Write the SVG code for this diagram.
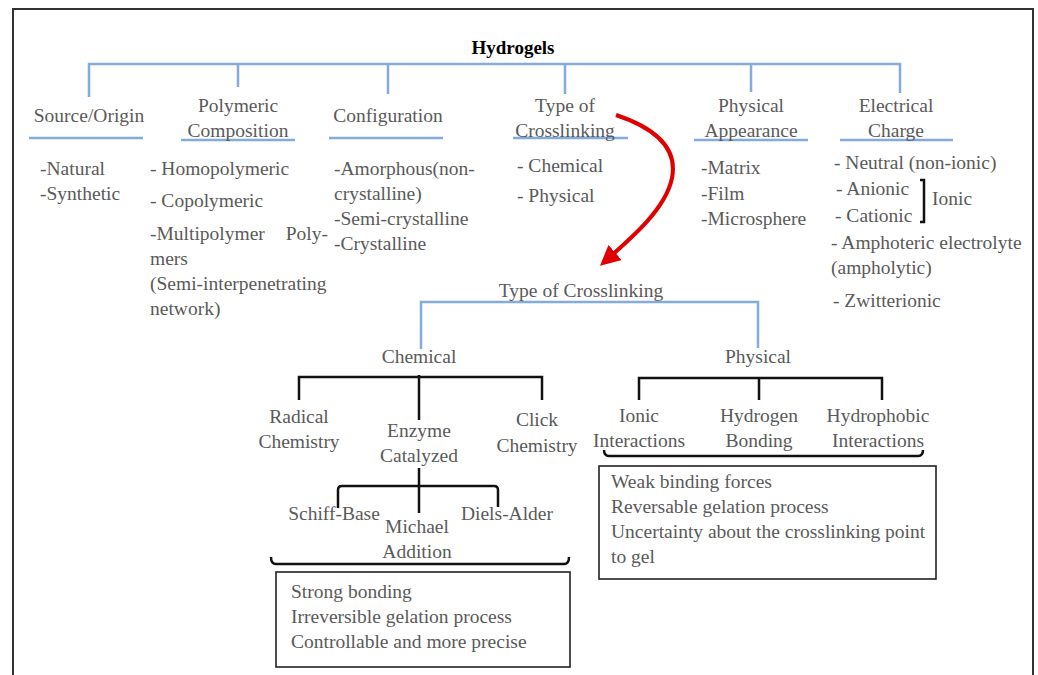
<svg xmlns="http://www.w3.org/2000/svg" width="1038" height="675" viewBox="0 0 1038 675">
  <style>
    text { font-family: "Liberation Serif", "Times New Roman", serif; font-size: 19.5px; fill: #5a5a5a; }
    .c { text-anchor: middle; }
    .title { font-weight: bold; fill: #000; font-size: 19px; }
    .blue { fill: none; stroke: #84abde; stroke-width: 2.5; }
    .blk { fill: none; stroke: #111; stroke-width: 2.5; }
    .box { fill: none; stroke: #222; stroke-width: 1.6; }
    .frame { fill: none; stroke: #333; stroke-width: 2; }
  </style>
  <defs>
    <marker id="redHead" viewBox="0 0 10 10" refX="8" refY="5" markerWidth="5" markerHeight="5" orient="auto" markerUnits="strokeWidth">
      <path d="M0,0 L10,5 L0,10 Z" fill="#e00000"/>
    </marker>
  </defs>

  <!-- page frame -->
  <path class="frame" d="M13,676 V9 H1033 V676"/>

  <!-- connectors -->
  <g id="connectors">
    <!-- top level tree -->
    <path class="blue" d="M89,97 V64 H900 V93 M238,64 V87 M388,64 V94 M565,64 V94 M751,64 V92"/>
    <!-- heading underlines -->
    <path class="blue" d="M29,138 H143 M181,140 H295 M329,138 H443 M513,138 H628 M694,140 H808 M840,140 H953"/>
    <!-- crosslinking tree -->
    <path class="blue" d="M421,349 V302 H758 V348"/>
    <!-- chemical branches -->
    <path class="blk" d="M299,400 V377 H542 V400 M419,375 V420"/>
    <!-- physical branches -->
    <path class="blk" d="M639,400 V378 H882 V400 M759,378 V400"/>
    <!-- enzyme catalyzed branches -->
    <path class="blk" d="M419,468 V513 M338,508 V490 Q338,486 342,486 H494 Q498,486 498,490 V507"/>
    <!-- braces -->
    <path class="blk" d="M271,557 Q271,564 276,564 H564 Q569,564 569,557"/>
    <path class="blk" d="M604,450 Q604,456 609,456 H918 Q923,456 923,450"/>
    <!-- ionic bracket -->
    <path class="blk" d="M920,180 H924 V222 H920"/>
    <!-- link to detailed crosslinking tree -->
    <path d="M616,115 C655,128 678,148 672,178 C666,208 634,236 603,263" fill="none" stroke="#e00000" stroke-width="4" marker-end="url(#redHead)"/>
  </g>

  <g id="hydrogels"><text class="c title" x="513" y="54">Hydrogels</text></g>

  <g id="source-origin">
    <text class="c" x="89" y="122">Source/Origin</text>
    <text x="40" y="175">-Natural</text>
    <text x="40" y="200">-Synthetic</text>
  </g>

  <g id="polymeric-composition">
    <text class="c" x="238" y="112">Polymeric</text>
    <text class="c" x="238" y="137">Composition</text>
    <text x="150" y="175">- Homopolymeric</text>
    <text x="150" y="207">- Copolymeric</text>
    <text x="150" y="240">-Multipolymer</text>
    <text x="328" y="240" text-anchor="end">Poly-</text>
    <text x="150" y="265">mers</text>
    <text x="150" y="290">(Semi-interpenetrating</text>
    <text x="150" y="315">network)</text>
  </g>

  <g id="configuration">
    <text class="c" x="388" y="122">Configuration</text>
    <text x="334" y="175">-Amorphous(non-</text>
    <text x="334" y="200">crystalline)</text>
    <text x="334" y="225">-Semi-crystalline</text>
    <text x="334" y="250">-Crystalline</text>
  </g>

  <g id="type-of-crosslinking">
    <text class="c" x="565" y="112">Type of</text>
    <text class="c" x="565" y="137">Crosslinking</text>
    <text x="517" y="172">- Chemical</text>
    <text x="517" y="202">- Physical</text>
  </g>

  <g id="physical-appearance">
    <text class="c" x="751" y="112">Physical</text>
    <text class="c" x="751" y="137">Appearance</text>
    <text x="701" y="174">-Matrix</text>
    <text x="701" y="200">-Film</text>
    <text x="701" y="225">-Microsphere</text>
  </g>

  <g id="electrical-charge">
    <text class="c" x="896" y="112">Electrical</text>
    <text class="c" x="896" y="137">Charge</text>
    <text x="834" y="169">- Neutral (non-ionic)</text>
    <text x="836" y="195">- Anionic</text>
    <text x="835" y="222">- Cationic</text>
    <text x="932" y="205">Ionic</text>
    <text x="831" y="249">- Amphoteric electrolyte</text>
    <text x="831" y="274">(ampholytic)</text>
    <text x="833" y="307">- Zwitterionic</text>
  </g>

  <g id="crosslinking-root"><text class="c" x="581" y="297">Type of Crosslinking</text></g>

  <g id="chemical"><text class="c" x="419" y="363">Chemical</text></g>
  <g id="radical-chemistry">
    <text class="c" x="299" y="423">Radical</text>
    <text class="c" x="299" y="448">Chemistry</text>
  </g>
  <g id="enzyme-catalyzed">
    <text class="c" x="419" y="437">Enzyme</text>
    <text class="c" x="419" y="462">Catalyzed</text>
  </g>
  <g id="click-chemistry">
    <text class="c" x="537" y="426">Click</text>
    <text class="c" x="537" y="452">Chemistry</text>
  </g>
  <g id="schiff-base"><text class="c" x="334" y="520">Schiff-Base</text></g>
  <g id="michael-addition">
    <text class="c" x="417" y="533">Michael</text>
    <text class="c" x="417" y="558">Addition</text>
  </g>
  <g id="diels-alder"><text class="c" x="507" y="520">Diels-Alder</text></g>
  <g id="chemical-features">
    <rect class="box" x="276" y="572" width="294" height="95"/>
    <text x="291" y="598">Strong bonding</text>
    <text x="291" y="623">Irreversible gelation process</text>
    <text x="291" y="648">Controllable and more precise</text>
  </g>

  <g id="physical"><text class="c" x="758" y="363">Physical</text></g>
  <g id="ionic-interactions">
    <text class="c" x="639" y="422">Ionic</text>
    <text class="c" x="639" y="447">Interactions</text>
  </g>
  <g id="hydrogen-bonding">
    <text class="c" x="759" y="422">Hydrogen</text>
    <text class="c" x="759" y="447">Bonding</text>
  </g>
  <g id="hydrophobic-interactions">
    <text class="c" x="878" y="422">Hydrophobic</text>
    <text class="c" x="878" y="447">Interactions</text>
  </g>
  <g id="physical-features">
    <rect class="box" x="599" y="466" width="337" height="113"/>
    <text x="611" y="488">Weak binding forces</text>
    <text x="611" y="513">Reversable gelation process</text>
    <text x="611" y="538">Uncertainty about the crosslinking point</text>
    <text x="611" y="563">to gel</text>
  </g>
</svg>
